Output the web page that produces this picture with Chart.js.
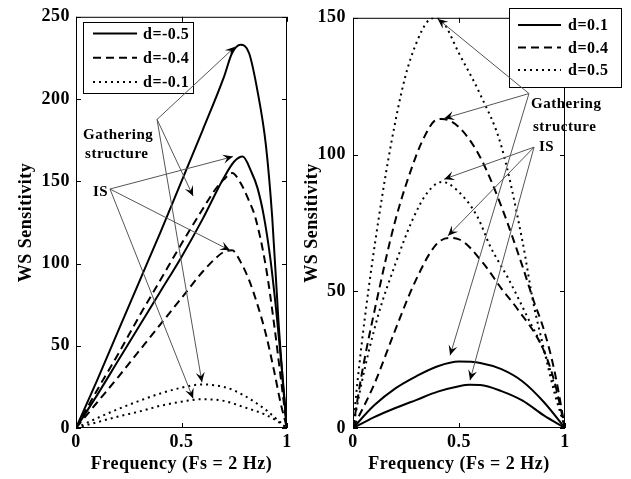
<!DOCTYPE html>
<html>
<head>
<meta charset="utf-8">
<title>WS Sensitivity</title>
<script src="https://cdn.jsdelivr.net/npm/chart.js@4.4.1/dist/chart.umd.min.js"></script>
<style>
html,body{margin:0;padding:0;background:#fff}
#wrap{position:relative;width:631px;height:479px;overflow:hidden;background:#fff}
canvas{position:absolute;top:0}
#leftChart{left:0}
#rightChart{left:300px}
</style>
</head>
<body>
<div id="wrap">
<canvas id="leftChart" width="300" height="479"></canvas>
<canvas id="rightChart" width="331" height="479"></canvas>
</div>
<script>

// values, frequency in units of Fs/2

const freqTicks = [0, 0.5, 1]
const leftTicks = [0, 50, 100, 150, 200, 250]
const rightTicks = [0, 50, 100, 150]

// left panel, d < 0   (G = gathering structure, I = IS)
const fNeg05G = [0,0.1,0.2,0.3,0.4,0.5,0.6,0.7,0.74,0.78,0.82,0.86,0.9,0.93,0.96,0.98,1]
const sNeg05G = [0,29,59,89,119,150,181,213,228,233,228,205,172,128,64,28,0]
const fNeg05I = [0,0.1,0.2,0.3,0.4,0.5,0.6,0.7,0.75,0.79,0.83,0.86,0.89,0.92,0.95,0.975,1]
const sNeg05I = [0,20,41,62,83,104,127,152,162,165,156,146,129,104,70,37,0]
const fNeg04G = [0,0.1,0.2,0.3,0.4,0.5,0.6,0.66,0.7,0.74,0.78,0.82,0.85,0.9,0.94,0.97,1]
const sNeg04G = [0,23,45,68,90,112,133,145,151,155,149,138,128,98,62,31,0]
const fNeg04I = [0,0.1,0.2,0.3,0.4,0.5,0.6,0.66,0.7,0.74,0.78,0.82,0.86,0.9,0.94,0.97,1]
const sNeg04I = [0,15.5,31,47,63,79,95,103,107,108,101,90,75,57,34,15,0]
const fNeg01G = [0,0.1,0.2,0.3,0.4,0.5,0.6,0.7,0.75,0.8,0.85,0.9,0.95,1]
const sNeg01G = [0,6,11.5,16.5,21,24.5,26.5,25,22.8,19.5,15.5,11,5.5,0]
const fNeg01I = [0,0.1,0.2,0.3,0.4,0.5,0.6,0.7,0.8,0.9,0.95,1]
const sNeg01I = [0,3.5,7,10,13.5,16,17.5,16.5,12.5,8,4.5,0]

// right panel, d > 0
const fPos05G = [0,0.02,0.057,0.12,0.18,0.245,0.3,0.35,0.385,0.42,0.5,0.6,0.7,0.8,0.85,0.9,0.95,1]
const sPos05G = [0,16,41,76,104,128,141,148.5,150,149,137,122,103,68,46,29,13,0]
const fPos05I = [0,0.042,0.118,0.2,0.28,0.35,0.42,0.49,0.585,0.65,0.73,0.82,0.915,1]
const sPos05I = [0,17,41,60,76,86,90,87,77.5,66,55,41,25,0]
const fPos04G = [0,0.042,0.113,0.2,0.3,0.34,0.38,0.42,0.5,0.6,0.7,0.8,0.85,0.9,0.95,1]
const sPos04G = [0,20,47,76,100,107,112,113,110,99,81,59,47,36,21,0]
const fPos04I = [0,0.1,0.2,0.29,0.387,0.45,0.5,0.613,0.7,0.774,0.896,0.95,1]
const sPos04I = [0,16,36,53,66.6,69.5,69,60.4,51,43.7,29,17,0]
const fPos01G = [0,0.1,0.2,0.3,0.4,0.5,0.6,0.7,0.8,0.9,1]
const sPos01G = [0,8.3,14.5,19,22.6,24.3,23.8,21.5,17,9.5,0]
const fPos01I = [0,0.1,0.2,0.3,0.4,0.5,0.55,0.6,0.7,0.8,0.9,1]
const sPos01I = [0,4,7.3,10.3,13.3,15.3,15.8,15.7,13.5,10,4.6,0]


const SOLID = []
const DASHED = [8,5]
const DOTTED = [2,4]
const SERIF = '"Liberation Serif", "Times New Roman", serif'

function series(label, f, s, dash){
return {
label: label,
data: f.map((x,i)=>({x: x, y: s[i]})),
borderColor: '#000',
borderWidth: 2,
borderDash: dash,
pointRadius: 0,
cubicInterpolationMode: 'monotone',
fill: false
}
}


function arrowHead(ctx, x0, y0, x1, y1){
const ang = Math.atan2(y1-y0, x1-x0)
ctx.save()
ctx.translate(x1, y1)
ctx.rotate(ang)
ctx.beginPath()
ctx.moveTo(0,0)
ctx.lineTo(-10,-4.5)
ctx.lineTo(-6,0)
ctx.lineTo(-10,4.5)
ctx.closePath()
ctx.fill()
ctx.restore()
}


// box with inward ticks, legend, annotations

const frame = {
id: 'frame',

beforeDraw(chart){
chart.ctx.letterSpacing = '0.5px'
},

afterDraw(chart, args, o){

const ctx = chart.ctx
const a = chart.chartArea
const xs = chart.scales.x
const ys = chart.scales.y

ctx.save()
ctx.strokeStyle = '#000'
ctx.lineWidth = 1
ctx.setLineDash([])
ctx.strokeRect(a.left+.5, a.top+.5, a.right-a.left-1, a.bottom-a.top-1)

ctx.beginPath()
xs.ticks.forEach(t=>{
const px = Math.round(xs.getPixelForValue(t.value))+.5
ctx.moveTo(px, a.bottom); ctx.lineTo(px, a.bottom-5)
ctx.moveTo(px, a.top); ctx.lineTo(px, a.top+5)
})
ys.ticks.forEach(t=>{
const py = Math.round(ys.getPixelForValue(t.value))+.5
ctx.moveTo(a.left, py); ctx.lineTo(a.left+5, py)
ctx.moveTo(a.right, py); ctx.lineTo(a.right-5, py)
})
ctx.stroke()

// legend
const lg = o.legend
ctx.fillStyle = '#fff'
ctx.fillRect(lg.x, lg.y, lg.w, lg.h)
ctx.strokeStyle = '#000'
ctx.strokeRect(lg.x+.5, lg.y+.5, lg.w, lg.h)
ctx.font = 'bold 16px ' + SERIF
ctx.textBaseline = 'middle'
ctx.textAlign = 'left'
lg.rows.forEach((label,i)=>{
const ds = chart.data.datasets.find(d=>d.label===label)
const y = lg.y + lg.first + i*lg.gap
ctx.beginPath()
ctx.setLineDash(ds.borderDash)
ctx.lineWidth = 2
ctx.moveTo(lg.x+lg.lineX, y)
ctx.lineTo(lg.x+lg.lineX+lg.lineLen, y)
ctx.stroke()
ctx.setLineDash([])
ctx.fillStyle = '#000'
ctx.fillText(label, lg.x+lg.textX, y+1)
})

// annotations, positioned in data units
ctx.font = 'bold 15px ' + SERIF
ctx.textBaseline = 'alphabetic'
o.notes.forEach(n=>{
ctx.fillStyle = '#000'
n.text.forEach((t,i)=>{
ctx.fillText(t, xs.getPixelForValue(n.at[i][0]), ys.getPixelForValue(n.at[i][1]))
})
const x0 = xs.getPixelForValue(n.from[0])
const y0 = ys.getPixelForValue(n.from[1])
n.to.forEach(p=>{
const x1 = xs.getPixelForValue(p[0])
const y1 = ys.getPixelForValue(p[1])
ctx.strokeStyle = '#555'
ctx.lineWidth = 1
ctx.beginPath()
ctx.moveTo(x0, y0)
ctx.lineTo(x1, y1)
ctx.stroke()
ctx.fillStyle = '#000'
arrowHead(ctx, x0, y0, x1, y1)
})
})

ctx.restore()
}
}


function makeChart(id, datasets, yTicks, o){

const tickFont = {family: SERIF, size: 18, weight: 'bold'}

return new Chart(document.getElementById(id), {
type: 'line',
data: {datasets: datasets},
options: {
responsive: false,
animation: false,
devicePixelRatio: 1,
layout: {padding: {top: o.top, right: o.right, left: 0, bottom: 0}},
plugins: {
legend: {display: false},
tooltip: {enabled: false},
frame: o
},
scales: {
x: {
type: 'linear', min: 0, max: 1,
afterFit: s=>{ s.height = 51 },
afterBuildTicks: s=>{ s.ticks = freqTicks.map(v=>({value: v})) },
grid: {display: false, drawTicks: false},
border: {display: false},
ticks: {color: '#000', font: tickFont, padding: 4, maxRotation: 0, callback: v=>String(v)},
title: {display: true, text: 'Frequency (Fs = 2 Hz)', color: '#000', font: tickFont, padding: {top: 0, bottom: 4}}
},
y: {
type: 'linear', min: 0, max: yTicks[yTicks.length-1],
afterFit: s=>{ s.width = o.yWidth },
afterBuildTicks: s=>{ s.ticks = yTicks.map(v=>({value: v})) },
grid: {display: false, drawTicks: false},
border: {display: false},
ticks: {color: '#000', font: tickFont, padding: o.yLabelPad, callback: v=>String(v)},
title: {display: true, text: 'WS Sensitivity', color: '#000', font: tickFont, padding: {top: o.yTitlePad, bottom: 0}}
}
}
},
plugins: [frame]
})
}


const leftChart = makeChart('leftChart', [
series('d=-0.5', fNeg05G, sNeg05G, SOLID),
series('d=-0.5', fNeg05I, sNeg05I, SOLID),
series('d=-0.4', fNeg04G, sNeg04G, DASHED),
series('d=-0.4', fNeg04I, sNeg04I, DASHED),
series('d=-0.1', fNeg01G, sNeg01G, DOTTED),
series('d=-0.1', fNeg01I, sNeg01I, DOTTED)
], leftTicks, {
top: 15, right: 13, yWidth: 76, yLabelPad: 6, yTitlePad: 16,
legend: {x: 83, y: 22, w: 110, h: 71, first: 11.5, gap: 24.3, lineX: 10, lineLen: 44, textX: 60, rows: ['d=-0.5','d=-0.4','d=-0.1']},
notes: [
{text: ['Gathering','structure'], at: [[0.033,176],[0.043,164]], from: [0.384,187.6], to: [[0.754,231.8],[0.555,141],[0.597,27.8]]},
{text: ['IS'], at: [[0.08,141]], from: [0.161,145.3], to: [[0.744,165],[0.73,108],[0.555,18]]}
]
})

const rightChart = makeChart('rightChart', [
series('d=0.1', fPos01G, sPos01G, SOLID),
series('d=0.1', fPos01I, sPos01I, SOLID),
series('d=0.4', fPos04G, sPos04G, DASHED),
series('d=0.4', fPos04I, sPos04I, DASHED),
series('d=0.5', fPos05G, sPos05G, DOTTED),
series('d=0.5', fPos05I, sPos05I, DOTTED)
], rightTicks, {
top: 16, right: 66, yWidth: 53, yLabelPad: 7, yTitlePad: 2,
legend: {x: 209, y: 8, w: 112, h: 79, first: 17, gap: 22.5, lineX: 9, lineLen: 43, textX: 59, rows: ['d=0.1','d=0.4','d=0.5']},
notes: [
{text: ['Gathering','structure'], at: [[0.84,116.9],[0.849,108.5]], from: [0.83,122.3], to: [[0.40,149.6],[0.43,113.2],[0.458,26.6]]},
{text: ['IS'], at: [[0.877,101.2]], from: [0.854,102.7], to: [[0.43,91],[0.448,70.3],[0.552,17.5]]}
]
})

</script>
</body>
</html>
